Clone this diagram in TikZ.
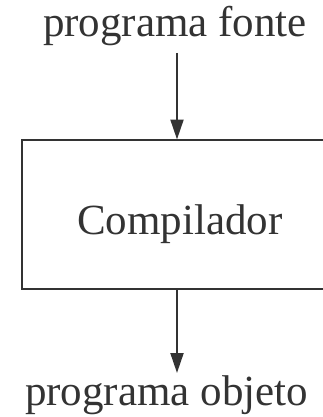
\documentclass[tikz,border=0pt]{standalone}
\usepackage{fontspec}
\setmainfont{Liberation Serif}
\usetikzlibrary{arrows.meta}
\definecolor{ink}{HTML}{333333}
\begin{document}
\begin{tikzpicture}[x=1pt,y=-1pt,
  lbl/.style={inner sep=0pt,anchor=base,text=ink,font=\fontsize{43}{48}\selectfont},
  conn/.style={draw=ink,line width=2pt,-{Triangle[length=20pt,width=13pt]}},
  boxline/.style={draw=ink,line width=2pt}]
\useasboundingbox (0,0) rectangle (323,417);
\clip (0,0) rectangle (323,417);
\node[lbl] (src) at (175,37) {programa fonte};
\draw[boxline] (21.5,139.5) rectangle (340,289);
\coordinate (btop) at (177,139.5);
\coordinate (bbot) at (177,289);
\node[lbl] (comp) at (180,234) {Compilador};
\coordinate (atop) at (177,53);
\coordinate (aend) at (177,373);
\node[lbl] (obj) at (166.5,405) {programa objeto};
\draw[conn] (atop) -- (btop);
\draw[conn] (bbot) -- (aend);
\end{tikzpicture}
\end{document}
